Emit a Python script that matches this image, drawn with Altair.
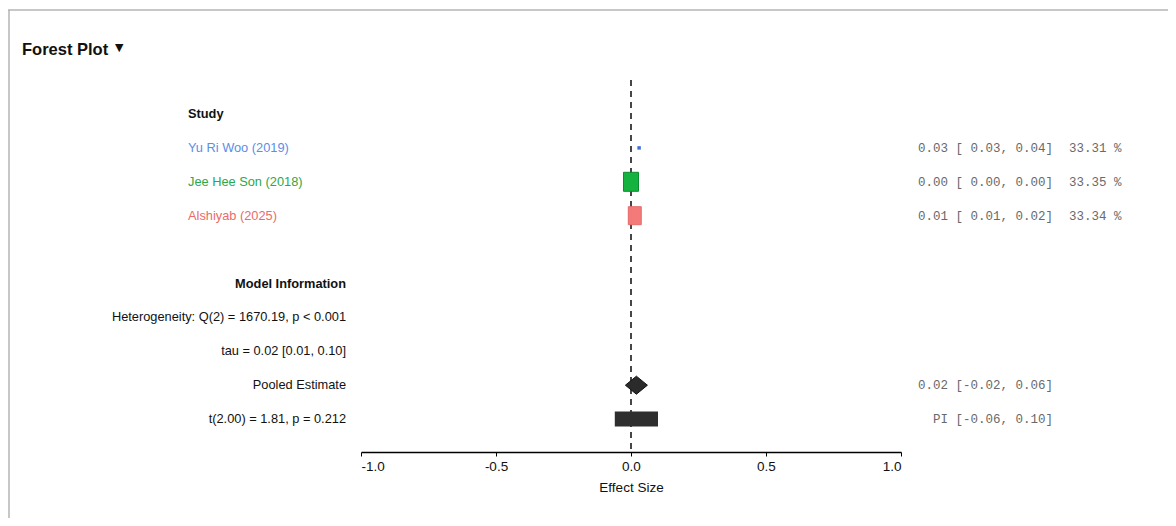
import altair as alt
import pandas as pd

# ---------------- data ----------------
studies = ["Yu Ri Woo (2019)", "Jee Hee Son (2018)", "Alshiyab (2025)"]
study_est = [0.03, 0.00, 0.014]
study_lo = [0.03, 0.00, 0.01]
study_hi = [0.04, 0.00, 0.02]
study_wt = [33.31, 33.35, 33.34]
study_rows = [1, 2, 3]
study_colors = ["#5b8ee6", "#2aa84a", "#ec6a6a"]

pooled_est, pooled_lo, pooled_hi = 0.02, -0.02, 0.06
pi_lo, pi_hi = -0.06, 0.10
q_df, q_val = 2, 1670.19
tau, tau_lo, tau_hi = 0.02, 0.01, 0.10
t_df, t_val, t_p = 2.00, 1.81, 0.212

x_ticks = [-1.0, -0.5, 0.0, 0.5, 1.0]

# ---------------- layout ----------------
W, H = 540, 372
SANS = "Liberation Sans, Arial, sans-serif"
MONO = "Liberation Mono, monospace"
FS = 12.8

study_df = pd.DataFrame({
    "study": studies, "est": study_est, "lo": study_lo, "hi": study_hi,
    "wt": study_wt, "row": study_rows,
    "ci": [f"{e:.2f} [{l:5.2f}, {h:.2f}]" for e, l, h in zip(study_est, study_lo, study_hi)],
    "pct": [f"{w:.2f} %" for w in study_wt],
})

model_df = pd.DataFrame({
    "label": [
        "Model Information",
        f"Heterogeneity: Q({q_df}) = {q_val:.2f}, p < 0.001",
        f"tau = {tau:.2f} [{tau_lo:.2f}, {tau_hi:.2f}]",
        "Pooled Estimate",
        f"t({t_df:.2f}) = {t_val:.2f}, p = {t_p:.3f}",
    ],
    "row": [5, 6, 7, 8, 9],
    "bold": [True, False, False, False, False],
})

pooled_df = pd.DataFrame({
    "est": [pooled_est], "lo": [pooled_lo], "hi": [pooled_hi], "row": [8],
    "txt": [f"{pooled_est:.2f} [{pooled_lo:.2f}, {pooled_hi:.2f}]"],
})
pi_df = pd.DataFrame({
    "lo": [pi_lo], "hi": [pi_hi], "row": [9],
    "txt": [f"PI [{pi_lo:.2f}, {pi_hi:.2f}]"],
})
header_df = pd.DataFrame({"label": ["Study"], "row": [0]})
one = pd.DataFrame({"a": [0]})

xscale = alt.Scale(domain=[-1, 1], nice=False, zero=False)
yscale = alt.Scale(domain=[-1.003, 9.9705], nice=False, zero=False, reverse=True)
xaxis = alt.Axis(title="Effect Size", values=x_ticks, grid=False,
                 labelExpr="replace(format(datum.value, '.1f'), '\u2212', '-')",
                 domainColor="#000", domainWidth=1.5, tickColor="#000", tickSize=4,
                 tickWidth=1, labelFont=SANS, labelFontSize=13.5, labelColor="#111",
                 labelPadding=3, titleFont=SANS, titleFontSize=13.5,
                 titleFontWeight="normal", titleColor="#111", titlePadding=8)

def Y():
    return alt.Y("row:Q", scale=yscale, axis=None)

color_scale = alt.Scale(domain=studies, range=study_colors)

# dashed null line
null_line = alt.Chart(pd.DataFrame({"x": [0.0]})).mark_rule(
    color="#333", strokeWidth=1.8, strokeDash=[6, 5]
).encode(x=alt.X("x:Q", scale=xscale, axis=xaxis), y=alt.value(0), y2=alt.value(H))

# study boxes
blue = alt.Chart(study_df.iloc[[0]]).mark_square(size=12, color="#3d6fd6", opacity=1).encode(
    x=alt.X("est:Q", scale=xscale, axis=xaxis), y=Y())
green = alt.Chart(study_df.iloc[[1]]).mark_point(
    shape="M-0.79,-1L0.79,-1L0.79,1L-0.79,1Z", size=361, filled=True,
    fill="#14b23f", stroke="#0c8a2e", strokeWidth=1, opacity=1
).encode(x=alt.X("est:Q", scale=xscale, axis=xaxis), y=Y())
red = alt.Chart(study_df.iloc[[2]]).mark_point(
    shape="M-0.72,-1L0.72,-1L0.72,1L-0.72,1Z", size=324, filled=True,
    fill="#f47a7a", stroke="#e66a6a", strokeWidth=1, opacity=1
).encode(x=alt.X("est:Q", scale=xscale, axis=xaxis), y=Y())

# pooled diamond and prediction interval
diamond = alt.Chart(pooled_df).mark_point(
    shape="M-1,0L0,-0.82L1,0L0,0.82Z", size=484, filled=True,
    fill="#2b2b2b", stroke="#111", strokeWidth=1, strokeJoin="round", opacity=1
).encode(x=alt.X("est:Q", scale=xscale, axis=xaxis), y=Y())
pi_bar = alt.Chart(pi_df).mark_rule(color="#2e2e2e", strokeWidth=15, strokeCap="butt").encode(
    x=alt.X("lo:Q", scale=xscale, axis=xaxis), x2="hi:Q", y=Y())

# left texts
header = alt.Chart(header_df).mark_text(
    align="left", baseline="middle", font=SANS, fontSize=FS, fontWeight="bold", color="#111"
).encode(x=alt.value(-173), y=Y(), text="label:N")
study_names = alt.Chart(study_df).mark_text(
    align="left", baseline="middle", font=SANS, fontSize=FS
).encode(x=alt.value(-173), y=Y(), text="study:N",
         color=alt.Color("study:N", scale=color_scale, legend=None))
model_bold = alt.Chart(model_df[model_df.bold]).mark_text(
    align="right", baseline="middle", font=SANS, fontSize=FS, fontWeight="bold", color="#111"
).encode(x=alt.value(-15), y=Y(), text="label:N")
model_plain = alt.Chart(model_df[~model_df.bold]).mark_text(
    align="right", baseline="middle", font=SANS, fontSize=FS, color="#111"
).encode(x=alt.value(-15), y=Y(), text="label:N")

# right texts
ci_text = alt.Chart(study_df).mark_text(
    align="right", baseline="middle", font=MONO, fontSize=12.5, color="#6a6a6a"
).encode(x=alt.value(692), y=Y(), text="ci:N")
pct_text = alt.Chart(study_df).mark_text(
    align="left", baseline="middle", font=MONO, fontSize=12.5, color="#6a6a6a"
).encode(x=alt.value(708), y=Y(), text="pct:N")
pooled_text = alt.Chart(pooled_df).mark_text(
    align="right", baseline="middle", font=MONO, fontSize=12.5, color="#6a6a6a"
).encode(x=alt.value(692), y=Y(), text="txt:N")
pi_text = alt.Chart(pi_df).mark_text(
    align="right", baseline="middle", font=MONO, fontSize=12.5, color="#6a6a6a"
).encode(x=alt.value(692), y=Y(), text="txt:N")

# title and frame
title = alt.Chart(one).mark_text(
    align="left", baseline="middle", font=SANS, fontSize=16.5, fontWeight="bold", color="#111"
).encode(x=alt.value(-339), y=alt.value(-30), text=alt.value("Forest Plot"))
arrow = alt.Chart(one).mark_text(
    align="left", baseline="middle", font="DejaVu Sans", fontSize=11, color="#111"
).encode(x=alt.value(-246), y=alt.value(-32), text=alt.value("▼"))
frame_top = alt.Chart(one).mark_rule(color="#b5b5b5", strokeWidth=1.5).encode(
    x=alt.value(-353), x2=alt.value(807), y=alt.value(-70))
frame_left = alt.Chart(one).mark_rule(color="#b5b5b5", strokeWidth=1.5).encode(
    x=alt.value(-352), y=alt.value(-70), y2=alt.value(438))

chart = alt.layer(
    frame_top, frame_left, null_line, pi_bar, diamond, green, red, blue,
    header, study_names, model_bold, model_plain,
    ci_text, pct_text, pooled_text, pi_text, title, arrow,
).properties(
    width=W, height=H, background="white",
    autosize=alt.AutoSizeParams(type="none"),
    padding={"left": 353, "top": 72, "right": 267, "bottom": 66},
).configure_view(stroke=None)

chart.save("out.html", embed_options={"renderer": "svg", "actions": False})
